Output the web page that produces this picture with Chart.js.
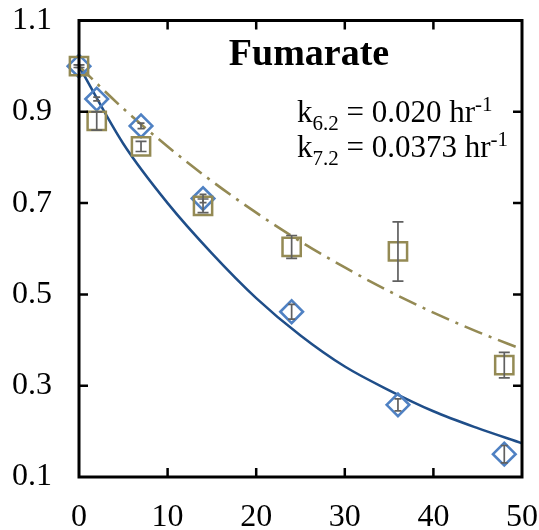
<!DOCTYPE html>
<html>
<head>
    <meta charset="utf-8">
    <title>Fumarate</title>
    <script src="https://cdn.jsdelivr.net/npm/chart.js"></script>
    <style>
      html, body { margin: 0; padding: 0; background: #fff; }
      #wrap { width: 539px; height: 530px; }
    </style>
</head>
<body>
<div id="wrap"><canvas id="fumChart" width="539" height="530"></canvas></div>

<script>
    // measured points (time in hr, normalised concentration)
    const timeHours = [0, 2, 7, 14, 24, 36, 48];
    const blueVals  = [1.000, 0.928, 0.869, 0.710, 0.462, 0.258, 0.150];
    const blueErr   = [0.003, 0.004, 0.006, 0.009, 0.016, 0.013, 0.019];
    const oliveVals = [1.000, 0.880, 0.824, 0.694, 0.604, 0.594, 0.345];
    const oliveErr  = [0.003, 0.020, 0.011, 0.015, 0.025, 0.065, 0.028];

    // fitted curves
    const curveX   = [0, 5, 10, 15, 20, 25, 30, 35, 40, 45, 50];
    const blueFit  = [1.00, 0.83, 0.70, 0.59, 0.492, 0.41, 0.342, 0.29, 0.244, 0.207, 0.174];
    const oliveFit = [1.00, 0.907, 0.824, 0.748, 0.679, 0.616, 0.559, 0.507, 0.460, 0.418, 0.380];

    const xTicks = [0, 10, 20, 30, 40, 50];
    const yTicks = [0.1, 0.3, 0.5, 0.7, 0.9, 1.1];
    const yTickLabels = ['0.1', '0.3', '0.5', '0.7', '0.9', '1.1'];

    const chartTitle = 'Fumarate';
    const rateLines = [
      ['k', '6.2', ' = 0.020 hr', '-1'],
      ['k', '7.2', ' = 0.0373 hr', '-1']
    ];

    const SERIF = '"Liberation Serif", "Times New Roman", serif';
    const BLUE_LINE = '#1F4E89';
    const BLUE_MARK = '#4F81C3';
    const OLIVE = '#948A54';
    const ERR = '#606060';

    const pts = (xs, ys) => xs.map((x, i) => ({ x: x, y: ys[i] }));

    // frame with inward ticks on all four sides
    const framePlugin = {
      id: 'frame',
      afterDraw(chart) {
        const ctx = chart.ctx, a = chart.chartArea;
        const xs = chart.scales.x, ys = chart.scales.y;
        ctx.save();
        ctx.strokeStyle = '#000';
        ctx.lineWidth = 2.5;
        ctx.beginPath();
        xTicks.slice(1, -1).forEach(v => {
          const px = xs.getPixelForValue(v);
          ctx.moveTo(px, a.bottom); ctx.lineTo(px, a.bottom - 9);
          ctx.moveTo(px, a.top); ctx.lineTo(px, a.top + 9);
        });
        yTicks.slice(1, -1).forEach(v => {
          const py = ys.getPixelForValue(v);
          ctx.moveTo(a.left, py); ctx.lineTo(a.left + 9, py);
          ctx.moveTo(a.right, py); ctx.lineTo(a.right - 9, py);
        });
        ctx.stroke();
        ctx.lineWidth = 3;
        ctx.strokeRect(a.left, a.top, a.right - a.left, a.bottom - a.top);
        ctx.restore();
      }
    };

    // error bars for the two measured series
    const errorBarPlugin = {
      id: 'errbars',
      afterDatasetsDraw(chart) {
        const ctx = chart.ctx;
        const xs = chart.scales.x, ys = chart.scales.y;
        const sets = [
          { vals: oliveVals, err: oliveErr, cap: 5.5 },
          { vals: blueVals, err: blueErr, cap: 3.5 }
        ];
        ctx.save();
        ctx.strokeStyle = ERR;
        ctx.lineWidth = 1.7;
        sets.forEach(s => {
          timeHours.forEach((t, i) => {
            const px = xs.getPixelForValue(t);
            const top = ys.getPixelForValue(s.vals[i] + s.err[i]);
            const bot = ys.getPixelForValue(s.vals[i] - s.err[i]);
            ctx.beginPath();
            ctx.moveTo(px, top); ctx.lineTo(px, bot);
            ctx.moveTo(px - s.cap, top); ctx.lineTo(px + s.cap, top);
            ctx.moveTo(px - s.cap, bot); ctx.lineTo(px + s.cap, bot);
            ctx.stroke();
          });
        });
        ctx.restore();
      }
    };

    // title and rate constants with sub/superscripts
    const textPlugin = {
      id: 'texts',
      afterDraw(chart) {
        const ctx = chart.ctx;
        ctx.save();
        ctx.fillStyle = '#000';
        ctx.textBaseline = 'alphabetic';
        ctx.textAlign = 'center';
        ctx.font = 'bold 38px ' + SERIF;
        ctx.fillText(chartTitle, 309, 65);

        ctx.textAlign = 'left';
        const big = '31px ' + SERIF, small = '21px ' + SERIF;
        rateLines.forEach((parts, row) => {
          let x = 297;
          const base = 122 + row * 35;
          const specs = [[big, 0], [small, 8], [big, 0], [small, -11]];
          parts.forEach((txt, j) => {
            ctx.font = specs[j][0];
            ctx.fillText(txt, x, base + specs[j][1]);
            x += ctx.measureText(txt).width;
          });
        });
        ctx.restore();
      }
    };

    const ctx = document.getElementById('fumChart').getContext('2d');
    const chart = new Chart(ctx, {
      type: 'scatter',
      data: {
        datasets: [
          {
            label: 'olive points',
            data: pts(timeHours, oliveVals),
            pointStyle: 'rect',
            pointRadius: 12.9,
            pointBorderWidth: 2.5,
            borderColor: OLIVE,
            backgroundColor: 'rgba(0,0,0,0)',
            clip: false
          },
          {
            label: 'blue points',
            data: pts(timeHours, blueVals),
            pointStyle: 'rectRot',
            pointRadius: 11.3,
            pointBorderWidth: 2.6,
            borderColor: BLUE_MARK,
            backgroundColor: 'rgba(0,0,0,0)',
            clip: false
          },
          {
            label: 'olive fit',
            data: pts(curveX, oliveFit),
            showLine: true,
            pointRadius: 0,
            borderColor: OLIVE,
            borderWidth: 2.6,
            borderDash: [19, 7, 3, 7],
            cubicInterpolationMode: 'monotone'
          },
          {
            label: 'blue fit',
            data: pts(curveX, blueFit),
            showLine: true,
            pointRadius: 0,
            borderColor: BLUE_LINE,
            borderWidth: 2.5,
            cubicInterpolationMode: 'monotone'
          }
        ]
      },
      options: {
        responsive: false,
        animation: false,
        events: [],
        layout: { padding: { top: 20.5, right: 17, left: 0, bottom: 0 } },
        plugins: { legend: { display: false }, tooltip: { enabled: false } },
        scales: {
          x: {
            type: 'linear',
            min: 0, max: 50,
            afterBuildTicks: s => { s.ticks = xTicks.map(v => ({ value: v })); },
            afterFit: s => { s.height = 53; s.paddingLeft = 0; s.paddingRight = 0; },
            grid: { display: false, drawTicks: false },
            border: { display: false },
            ticks: {
              padding: 21,
              color: '#000',
              font: { family: SERIF, size: 32 },
              maxRotation: 0,
              callback: v => String(v)
            }
          },
          y: {
            type: 'linear',
            min: 0.1, max: 1.1,
            afterBuildTicks: s => { s.ticks = yTicks.map(v => ({ value: v })); },
            afterFit: s => { s.width = 79; s.paddingTop = 0; s.paddingBottom = 0; },
            grid: { display: false, drawTicks: false },
            border: { display: false },
            ticks: {
              padding: 27,
              color: '#000',
              font: { family: SERIF, size: 32 },
              callback: (v, i) => yTickLabels[i]
            }
          }
        }
      },
      plugins: [errorBarPlugin, framePlugin, textPlugin]
    });
</script>
</body>
</html>
